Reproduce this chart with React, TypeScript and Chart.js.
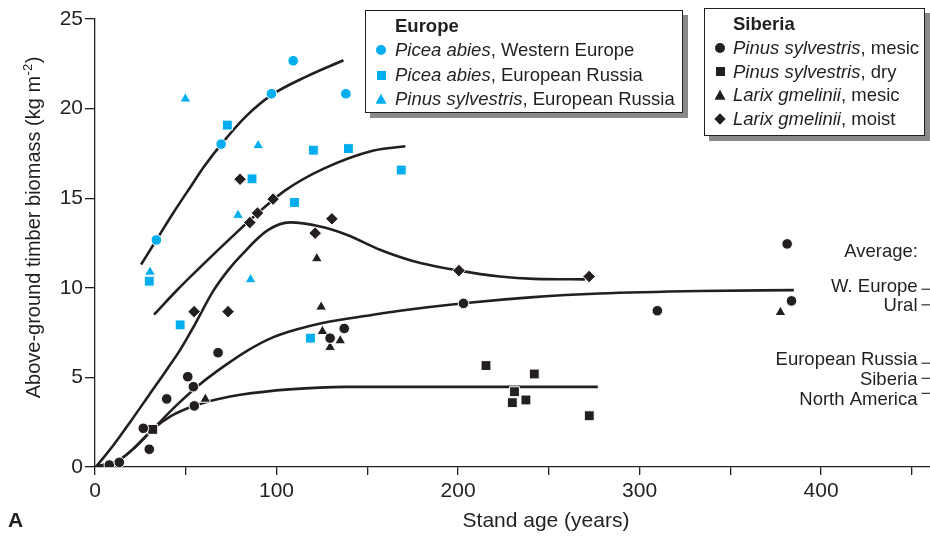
import React, { useEffect, useRef } from "react";
import { Chart, registerables } from "chart.js";

Chart.register(...registerables);

const BLUE = "#00aeef";
const INK = "#231f20";
const FONT = '"Liberation Sans", Arial, Helvetica, sans-serif';

type Pt = [number, number];

// ---------- Europe (stand age in years, biomass kg m-2) ----------
const piceaWesternEurope: Pt[] = [[33.8, 12.67], [69.5, 18.02], [97.2, 20.83], [109.2, 22.67], [138.2, 20.83]];
const piceaEuropeanRussia: Pt[] = [[29.9, 10.37], [46.9, 7.93], [72.9, 19.08], [86.5, 16.08], [109.9, 14.76], [118.7, 7.19], [120.3, 17.68], [139.6, 17.77], [168.7, 16.57]];
const pinusEuropeanRussia: Pt[] = [[30.3, 10.88], [49.8, 20.54], [78.8, 14.05], [85.7, 10.46], [89.9, 17.94]];

// ---------- Siberia ----------
const pinusMesic: Pt[] = [[7.9, 0.11], [13.4, 0.26], [26.6, 2.16], [29.9, 0.99], [39.5, 3.8], [51.1, 5.04], [54.2, 4.48], [54.7, 3.41], [67.8, 6.38], [129.5, 7.19], [137.3, 7.73], [203, 9.13], [309.8, 8.72], [381.3, 12.45], [383.7, 9.27]];
const pinusDry: Pt[] = [[31.8, 2.1], [215.4, 5.66], [229.9, 3.59], [231.1, 4.2], [237.4, 3.74], [242, 5.19], [272.3, 2.86]];
const larixMesic: Pt[] = [[60.8, 3.79], [122.2, 11.63], [124.6, 8.93], [125.3, 7.57], [129.5, 6.68], [135.1, 7.05], [377.6, 8.63]];
const larixMoist: Pt[] = [[54.6, 8.67], [73.3, 8.67], [79.9, 16.06], [85.3, 13.64], [89.5, 14.17], [98.1, 14.95], [121.3, 13.05], [130.5, 13.85], [200.5, 10.96], [272.2, 10.63]];

// ---------- fitted curves ----------
const curveWesternEurope: Pt[] = [[25.4, 11.3], [33.8, 12.67], [43, 14.16], [52.4, 15.6], [60, 16.75], [69.5, 18.0], [83, 19.55], [97.2, 20.75], [116.7, 21.8], [136.9, 22.7]];
const curveEuropeanRussia: Pt[] = [[32.5, 8.5], [45, 9.85], [60, 11.35], [75, 12.8], [90, 14.2], [105, 15.45], [126, 16.65], [153, 17.65], [171, 17.9]];
const curveLarixMoist: Pt[] = [[0.5, 0], [10, 1.2], [20, 2.6], [30, 4.05], [40, 5.5], [47, 6.55], [55, 7.95], [65, 9.8], [73.5, 11.0], [80, 11.75], [95, 13.2], [107.5, 13.65], [124, 13.42], [139, 12.95], [157, 12.12], [175, 11.5], [200.5, 10.96], [223, 10.63], [242, 10.5], [270, 10.47]];
const curvePinusMesic: Pt[] = [[0, 0], [13.4, 0.4], [22, 1.1], [31.8, 2.1], [45, 3.45], [57, 4.55], [70.7, 5.6], [84, 6.5], [98.3, 7.25], [112, 7.7], [126, 8.05], [151.6, 8.47], [168, 8.72], [203, 9.14], [241.6, 9.48], [278, 9.68], [333, 9.82], [385, 9.87]];
const curvePinusDry: Pt[] = [[0, 0], [13.4, 0.4], [22, 1.1], [31.8, 2.1], [42, 2.85], [54.7, 3.42], [68, 3.8], [80, 4.03], [107, 4.33], [138, 4.47], [277, 4.47]];

// ---------- averages (right margin) ----------
const averageLabels = ["W. Europe", "Ural", "European Russia", "Siberia", "North America"];
const averageValues = [9.92, 9.05, 5.79, 4.95, 4.11];
const averageAge = 457.8;

// ---------- axes ----------
const xLabelledTicks = [0, 100, 200, 300, 400];
const xTitle = "Stand age (years)";
const yTitleMain = "Above-ground timber biomass (kg m";
const yTitleSup = "-2";

// ---------- legends ----------
const europeTitle = "Europe";
const europeSpecies = ["Picea abies", "Picea abies", "Pinus sylvestris"];
const europeRegions = ["Western Europe", "European Russia", "European Russia"];
const siberiaTitle = "Siberia";
const siberiaSpecies = ["Pinus sylvestris", "Pinus sylvestris", "Larix gmelinii", "Larix gmelinii"];
const siberiaSites = ["mesic", "dry", "mesic", "moist"];

// layout-only constants
const averageLabelOffsets = [-2.6, 1, -3.3, 1.7, 6.7];

const toXY = (a: Pt[]) => a.map(([x, y]) => ({ x, y }));

const pointSet = (label: string, data: Pt[], style: string, color: string, radius: number) => ({
  label,
  data: toXY(data),
  showLine: false,
  pointStyle: style,
  pointRadius: radius,
  pointBackgroundColor: color,
  pointBorderColor: "#ffffff",
  pointBorderWidth: 1,
  order: 0,
});

const curveSet = (label: string, data: Pt[]) => ({
  label,
  data: toXY(data),
  showLine: true,
  borderColor: INK,
  borderWidth: 2.6,
  pointRadius: 0,
  cubicInterpolationMode: "monotone",
  fill: false,
  order: 10,
});

const textPlugin = {
  id: "extraText",
  afterDraw(chart: any) {
    const { ctx } = chart;
    const y = chart.scales.y;
    ctx.save();
    ctx.fillStyle = INK;
    // x title
    ctx.font = `21px ${FONT}`;
    ctx.textAlign = "center";
    ctx.textBaseline = "middle";
    ctx.fillText(xTitle, 546, 521);
    // panel letter
    ctx.font = `bold 21px ${FONT}`;
    ctx.textAlign = "left";
    ctx.fillText("A", 8, 521);
    // averages
    ctx.font = `18.5px ${FONT}`;
    ctx.textAlign = "right";
    ctx.fillText("Average:", 918, 251.5);
    averageLabels.forEach((lab, i) => {
      ctx.fillText(lab, 917.5, y.getPixelForValue(averageValues[i]) + averageLabelOffsets[i]);
    });
    ctx.restore();

    // y title (rotated, with superscript)
    ctx.save();
    ctx.translate(33, 228);
    ctx.rotate(-Math.PI / 2);
    ctx.fillStyle = INK;
    ctx.textAlign = "left";
    ctx.textBaseline = "alphabetic";
    ctx.font = `20px ${FONT}`;
    const w1 = ctx.measureText(yTitleMain).width;
    const w3 = ctx.measureText(")").width;
    ctx.font = `13px ${FONT}`;
    const w2 = ctx.measureText(yTitleSup).width;
    const x0 = -(w1 + w2 + w3) / 2;
    ctx.font = `20px ${FONT}`;
    ctx.fillText(yTitleMain, x0, 7);
    ctx.font = `13px ${FONT}`;
    ctx.fillText(yTitleSup, x0 + w1 + 0.5, -1);
    ctx.font = `20px ${FONT}`;
    ctx.fillText(")", x0 + w1 + w2 + 1, 7);
    ctx.restore();
  },
};

function Marker({ shape, color }: { shape: string; color: string }) {
  const base: React.CSSProperties = { position: "absolute", background: color };
  if (shape === "circle") return <div style={{ ...base, width: 10, height: 10, borderRadius: "50%", left: -5, top: -5 }} />;
  if (shape === "square") return <div style={{ ...base, width: 9, height: 9, left: -4.5, top: -4.5 }} />;
  if (shape === "triangle")
    return <div style={{ ...base, width: 11, height: 10, left: -5.5, top: -5.5, clipPath: "polygon(50% 0, 100% 100%, 0 100%)" }} />;
  return <div style={{ ...base, width: 8, height: 8, left: -4, top: -4, transform: "rotate(45deg)" }} />;
}

function LegendBox(props: {
  left: number; top: number; width: number; height: number; title: string; titleY: number;
  rows: { shape: string; color: string; species: string; rest: string }[]; rowYs: number[]; textX: number;
}) {
  const { left, top, width, height, title, titleY, rows, rowYs, textX } = props;
  const line = (cy: number): React.CSSProperties => ({
    position: "absolute", left: textX, top: cy - 11, height: 22, lineHeight: "22px", whiteSpace: "nowrap",
  });
  return (
    <div style={{
      position: "absolute", left, top, width, height, boxSizing: "border-box", background: "#fff",
      border: `1px solid ${INK}`, boxShadow: "5px 5px 0 #8a8a8a", fontFamily: FONT, fontSize: 18.5, color: INK,
    }}>
      <div style={{ ...line(titleY), fontWeight: "bold" }}>{title}</div>
      {rows.map((r, i) => (
        <React.Fragment key={i}>
          <div style={{ position: "absolute", left: 15, top: rowYs[i] }}>
            <Marker shape={r.shape} color={r.color} />
          </div>
          <div style={line(rowYs[i])}><i>{r.species}</i>, {r.rest}</div>
        </React.Fragment>
      ))}
    </div>
  );
}

export default function App() {
  const ref = useRef<HTMLCanvasElement | null>(null);

  useEffect(() => {
    if (!ref.current) return;
    const chart = new Chart(ref.current, {
      type: "scatter",
      data: {
        datasets: [
          pointSet("Picea abies, Western Europe", piceaWesternEurope, "circle", BLUE, 5.3),
          pointSet("Picea abies, European Russia", piceaEuropeanRussia, "rect", BLUE, 7),
          pointSet("Pinus sylvestris, European Russia", pinusEuropeanRussia, "triangle", BLUE, 6.3),
          pointSet("Pinus sylvestris, mesic", pinusMesic, "circle", INK, 5.3),
          pointSet("Pinus sylvestris, dry", pinusDry, "rect", INK, 7),
          pointSet("Larix gmelinii, mesic", larixMesic, "triangle", INK, 6.3),
          pointSet("Larix gmelinii, moist", larixMoist, "rectRot", INK, 6.3),
          curveSet("Fit W. Europe", curveWesternEurope),
          curveSet("Fit European Russia", curveEuropeanRussia),
          curveSet("Fit Larix moist", curveLarixMoist),
          curveSet("Fit Pinus mesic", curvePinusMesic),
          curveSet("Fit Pinus dry", curvePinusDry),
          {
            label: "Averages",
            data: averageValues.map((v) => ({ x: averageAge, y: v })),
            showLine: false,
            pointStyle: "line",
            pointRadius: 4.5,
            pointBorderColor: "#333",
            pointBorderWidth: 1.2,
            order: 0,
            clip: false,
          } as any,
        ] as any,
      },
      options: {
        responsive: false,
        animation: false,
        events: [],
        layout: { autoPadding: false, padding: { top: 19, right: 0, left: 0, bottom: 0 } },
        plugins: { legend: { display: false }, tooltip: { enabled: false } },
        scales: {
          x: {
            type: "linear",
            min: 0,
            max: 460,
            afterFit: (s: any) => { s.height = 70; s.paddingRight = 0; s.paddingLeft = 0; },
            border: { display: true, color: INK, width: 1.3 },
            grid: { display: true, drawOnChartArea: false, drawTicks: true, tickLength: 8, color: INK, tickColor: INK, lineWidth: 1.3 },
            ticks: {
              stepSize: 50,
              includeBounds: false,
              autoSkip: false,
              maxRotation: 0,
              padding: 4,
              color: INK,
              font: { family: FONT, size: 21 },
              callback: (v: any) => (xLabelledTicks.includes(Number(v)) ? String(v) : ""),
            },
          },
          y: {
            type: "linear",
            min: 0,
            max: 25,
            afterFit: (s: any) => { s.width = 95; },
            border: { display: true, color: INK, width: 1.3 },
            grid: { display: true, drawOnChartArea: false, drawTicks: true, tickLength: 10, color: INK, tickColor: INK, lineWidth: 1.3 },
            ticks: { stepSize: 5, padding: 2, color: INK, font: { family: FONT, size: 21 } },
          },
        },
      } as any,
      plugins: [textPlugin],
    });
    return () => chart.destroy();
  }, []);

  const europeShapes = ["circle", "square", "triangle"];
  const siberiaShapes = ["circle", "square", "triangle", "diamond"];

  return (
    <div style={{ position: "absolute", left: 0, top: 0, width: 930, height: 537, background: "#fff", overflow: "hidden" }}>
      <canvas ref={ref} width={930} height={537} style={{ position: "absolute", left: 0, top: 0 }} />
      <LegendBox
        left={365} top={10} width={318} height={103}
        title={europeTitle} titleY={15} textX={29}
        rows={europeSpecies.map((s, i) => ({ shape: europeShapes[i], color: BLUE, species: s, rest: europeRegions[i] }))}
        rowYs={[39.3, 64, 88.3]}
      />
      <LegendBox
        left={704} top={8} width={221} height={128}
        title={siberiaTitle} titleY={14.7} textX={28}
        rows={siberiaSpecies.map((s, i) => ({ shape: siberiaShapes[i], color: INK, species: s, rest: siberiaSites[i] }))}
        rowYs={[38.7, 62.7, 86.3, 110.3]}
      />
    </div>
  );
}
